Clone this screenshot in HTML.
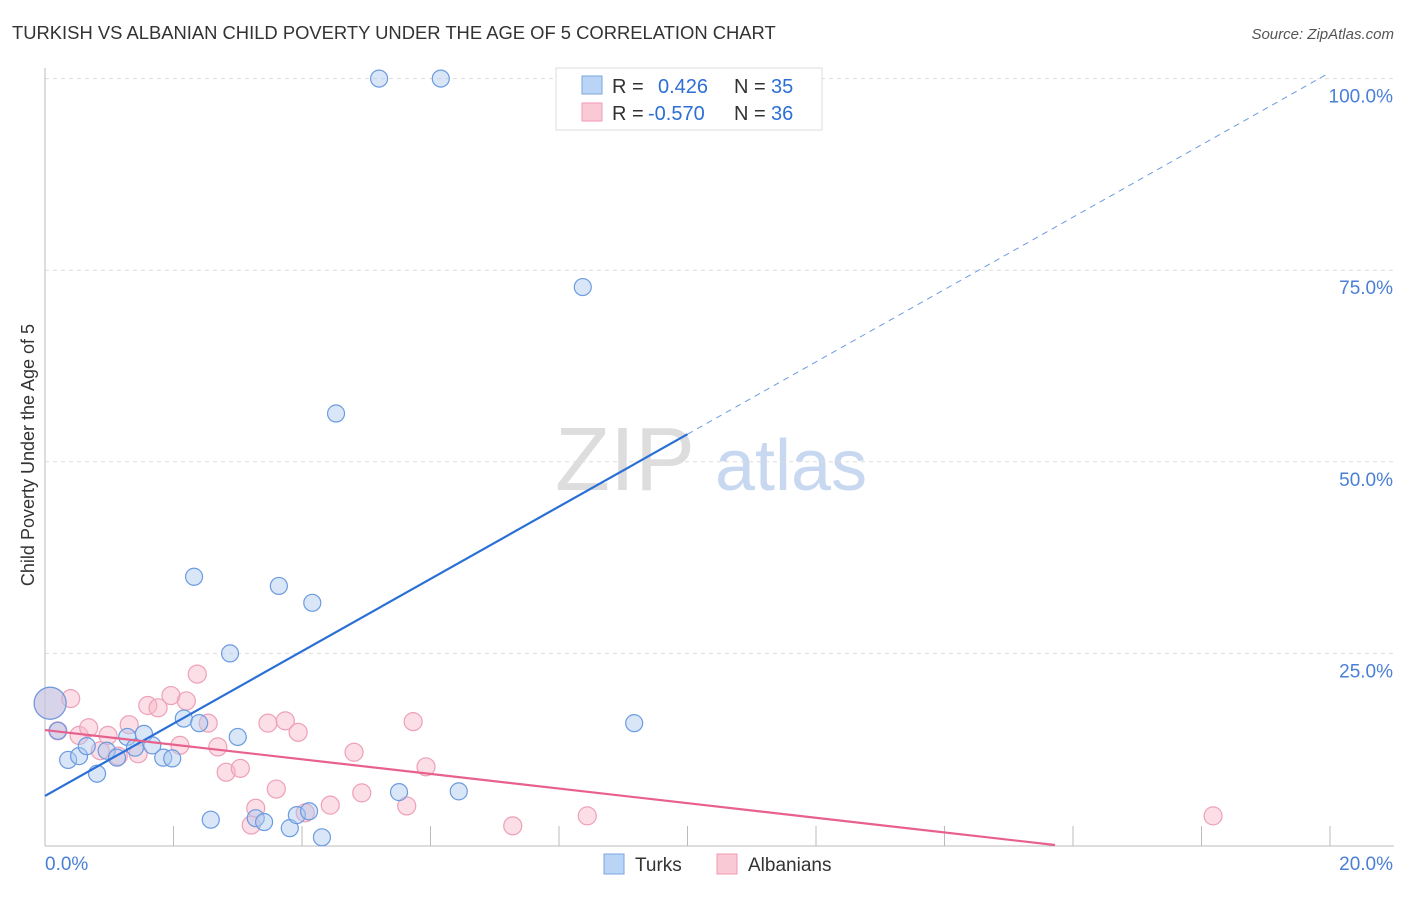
<!DOCTYPE html>
<html><head><meta charset="utf-8"><style>
body{margin:0;background:#fff;font-family:"Liberation Sans",sans-serif}
svg text{font-family:"Liberation Sans",sans-serif}
</style></head><body>
<svg id="c" width="1406" height="892">
<text x="12" y="39" font-size="18.4" fill="#333">TURKISH VS ALBANIAN CHILD POVERTY UNDER THE AGE OF 5 CORRELATION CHART</text>
<text x="1394" y="39" font-size="15" fill="#555" text-anchor="end" font-style="italic">Source: ZipAtlas.com</text>
<text transform="translate(34,455) rotate(-90)" font-size="18" fill="#333" text-anchor="middle">Child Poverty Under the Age of 5</text>
<g><text x="555" y="490" font-size="90" fill="#ddd" font-family="Liberation Serif">ZIP</text><text x="715" y="490" font-size="72" fill="#c8d8f0">atlas</text></g>
<g id="grid"></g><g id="pts"></g><g id="lines"></g>
<g>
<rect x="556" y="68" width="266" height="62" fill="#fff" stroke="#ddd"/>
<rect x="582" y="76" width="20" height="18" fill="#b9d4f5" stroke="#7aa7e0"/>
<text x="612" y="93" font-size="20" fill="#333">R = </text><text x="658" y="93" font-size="20" fill="#2d6fd6">0.426</text>
<text x="734" y="93" font-size="20" fill="#333">N = </text><text x="771" y="93" font-size="20" fill="#2d6fd6">35</text>
<rect x="582" y="103" width="20" height="18" fill="#f9c9d6" stroke="#ee9ab2"/>
<text x="612" y="120" font-size="20" fill="#333">R = </text><text x="648" y="120" font-size="20" fill="#2d6fd6">-0.570</text>
<text x="734" y="120" font-size="20" fill="#333">N = </text><text x="771" y="120" font-size="20" fill="#2d6fd6">36</text>
</g>
<g>
<rect x="604" y="854" width="20" height="20" fill="#b9d4f5" stroke="#7aa7e0"/><text x="635" y="871" font-size="19" fill="#333">Turks</text>
<rect x="717" y="854" width="20" height="20" fill="#f9c9d6" stroke="#ee9ab2"/><text x="748" y="871" font-size="19" fill="#333">Albanians</text>
</g>
</svg>
<script>
const turksX=[0.08,0.2,0.36,0.53,0.65,0.81,0.96,1.12,1.28,1.4,1.54,1.67,1.84,1.98,2.16,2.32,2.4,2.58,2.88,3.0,3.28,3.41,3.64,3.81,3.92,4.11,4.16,4.31,4.53,5.2,5.51,6.16,6.44,8.37,9.17];
const turksY=[18.5,14.9,11.1,11.6,12.9,9.3,12.3,11.4,14.1,12.7,14.5,13.0,11.4,11.3,16.5,35.0,15.9,3.3,25.0,14.1,3.5,3.0,33.8,2.2,3.9,4.4,31.6,1.0,56.3,100,6.9,100,7.0,72.8,15.9];
const albX=[0.08,0.2,0.4,0.53,0.68,0.86,0.98,1.14,1.31,1.45,1.6,1.76,1.96,2.1,2.2,2.37,2.54,2.69,2.82,3.04,3.21,3.28,3.47,3.6,3.74,3.94,4.05,4.44,4.93,4.81,5.63,5.73,5.93,7.28,8.44,18.18];
const albY=[18.5,14.9,19.1,14.3,15.3,12.3,14.3,11.6,15.7,11.9,18.2,17.9,19.5,13.0,18.8,22.3,15.9,12.8,9.5,10.0,2.6,4.8,15.9,7.3,16.2,14.7,4.2,5.2,6.8,12.1,5.1,16.1,10.2,2.5,3.8,3.8];
const turksTrend=[6.4,53.6], albTrend=[15.0,0];
const yTicks=[25,50,75,100];
const x=v=>45+v*64.25, y=v=>845-v*7.664;
const NS="http://www.w3.org/2000/svg";
function mk(p,t,a){const e=document.createElementNS(NS,t);for(const k in a)e.setAttribute(k,a[k]);p.appendChild(e);return e;}
const g=document.getElementById('grid');
yTicks.forEach(t=>{
 const l=mk(g,'line',{x1:45,x2:1394,y1:y(t),y2:y(t),stroke:'#ddd','stroke-dasharray':'4,4'});
 
 
 const tx=mk(g,'text',{x:1393,y:y(t)+24,'font-size':19,fill:'#4a7fd6','text-anchor':'end'});tx.textContent=t.toFixed(1)+'%';
 
 
});
mk(g,'line',{x1:45,x2:45,y1:68,y2:846,stroke:'#bbb'});
mk(g,'line',{x1:45,x2:1394,y1:846,y2:846,stroke:'#bbb'});
for(let i=1;i<=10;i++){const t=mk(g,'line',{x1:x(i*2),x2:x(i*2),y1:826,y2:846,stroke:'#bbb'});
 
 }
let a=mk(g,'text',{x:45,y:870,'font-size':19,fill:'#4a7fd6'});a.textContent='0.0%';


a=mk(g,'text',{x:1393,y:870,'font-size':19,fill:'#4a7fd6','text-anchor':'end'});a.textContent='20.0%';


const P=document.getElementById('pts');
albX.forEach((v,i)=>{const c=mk(P,'circle',{cx:x(v),cy:y(albY[i]),r:i==0?16:9,fill:'rgba(246,182,200,0.45)',stroke:'#eea0b8','stroke-width':1.2});
 
 });
turksX.forEach((v,i)=>{const c=mk(P,'circle',{cx:x(v),cy:y(turksY[i]),r:i==0?16:8.5,fill:'rgba(170,200,240,0.45)',stroke:'#6b9be0','stroke-width':1.2});
 
 });
const L=document.getElementById('lines');
const ty=v=>turksTrend[0]+(turksTrend[1]-turksTrend[0])*v/10;
let l=mk(L,'line',{x1:x(0),y1:y(ty(0)),x2:x(10),y2:y(ty(10)),stroke:'#2a6fd6','stroke-width':2.2});


l=mk(L,'line',{x1:x(10),y1:y(ty(10)),x2:x(19.93),y2:y(ty(19.93)),stroke:'#6b9be0','stroke-width':1,'stroke-dasharray':'6,5'});


const ay=v=>albTrend[0]+(albTrend[1]-albTrend[0])*v/15.72;
l=mk(L,'line',{x1:x(0),y1:y(ay(0)),x2:x(15.72),y2:y(ay(15.72)),stroke:'#e8608c','stroke-width':2.2});


</script>
</body></html>
